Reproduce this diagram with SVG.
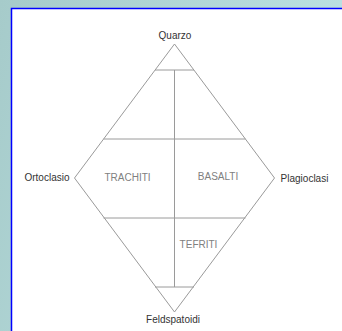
<svg xmlns="http://www.w3.org/2000/svg" width="342" height="331" viewBox="0 0 342 331">
<defs>
<linearGradient id="bg" x1="0" y1="0" x2="1" y2="0.3">
<stop offset="0" stop-color="#a6cbca"/>
<stop offset="1" stop-color="#bce2e3"/>
</linearGradient>
<style>
.ln{stroke:#9a9a9a;stroke-width:1;fill:none}
.lbl{font-family:"Liberation Sans",Arial,sans-serif;font-size:10px;fill:#333;text-anchor:middle}
.reg{font-family:"Liberation Sans",Arial,sans-serif;font-size:10px;fill:#808080;text-anchor:middle}
</style>
</defs>
<rect width="342" height="331" fill="url(#bg)"/>
<rect x="11.5" y="8.5" width="340" height="330" fill="#fff" stroke="#0000ff" stroke-width="1.5"/>
<g id="connectors">
<polygon class="ln" points="174.5,44 274.5,178 174.5,312 74.5,178"/>
<line class="ln" x1="155" y1="70" x2="194" y2="70"/>
<line class="ln" x1="103.5" y1="139" x2="245.5" y2="139"/>
<line class="ln" x1="103.5" y1="218" x2="245.5" y2="218"/>
<line class="ln" x1="155" y1="287" x2="194" y2="287"/>
<line class="ln" x1="174.5" y1="70" x2="174.5" y2="287"/>
</g>
<g id="quarzo"><text class="lbl" x="175" y="39">Quarzo</text></g>
<g id="ortoclasio"><text class="lbl" x="47" y="181">Ortoclasio</text></g>
<g id="plagioclasi"><text class="lbl" x="304.5" y="182">Plagioclasi</text></g>
<g id="feldspatoidi"><text class="lbl" x="173" y="323">Feldspatoidi</text></g>
<g id="trachiti"><text class="reg" x="127.5" y="181">TRACHITI</text></g>
<g id="basalti"><text class="reg" x="218" y="180">BASALTI</text></g>
<g id="tefriti"><text class="reg" x="198.5" y="248">TEFRITI</text></g>
</svg>
